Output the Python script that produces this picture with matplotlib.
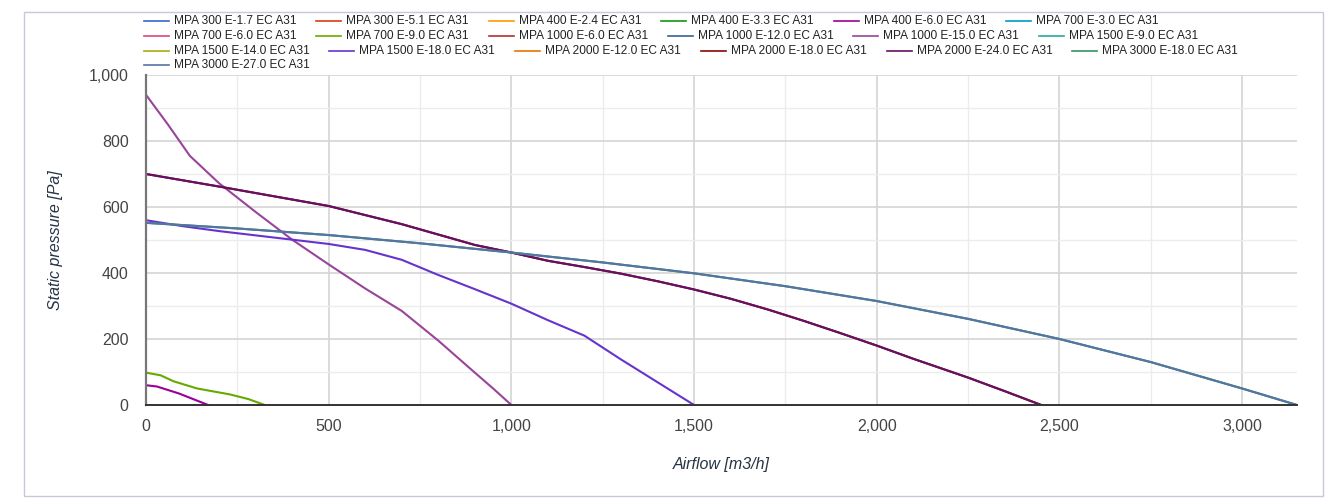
import matplotlib
matplotlib.use("Agg")
import matplotlib.pyplot as plt
from matplotlib.lines import Line2D
from matplotlib.patches import Rectangle
from matplotlib.ticker import MultipleLocator, FuncFormatter

plt.rcParams['font.family'] = ['Liberation Sans', 'DejaVu Sans']

# series names and colours (legend order)
names = ["MPA 300 E-1.7 EC A31", "MPA 300 E-5.1 EC A31", "MPA 400 E-2.4 EC A31",
         "MPA 400 E-3.3 EC A31", "MPA 400 E-6.0 EC A31", "MPA 700 E-3.0 EC A31",
         "MPA 700 E-6.0 EC A31", "MPA 700 E-9.0 EC A31", "MPA 1000 E-6.0 EC A31",
         "MPA 1000 E-12.0 EC A31", "MPA 1000 E-15.0 EC A31", "MPA 1500 E-9.0 EC A31",
         "MPA 1500 E-14.0 EC A31", "MPA 1500 E-18.0 EC A31", "MPA 2000 E-12.0 EC A31",
         "MPA 2000 E-18.0 EC A31", "MPA 2000 E-24.0 EC A31", "MPA 3000 E-18.0 EC A31",
         "MPA 3000 E-27.0 EC A31"]
colors = ["#3366cc", "#dc3912", "#ff9900", "#109618", "#990099", "#0099c6",
          "#dd4477", "#66aa00", "#b82e2e", "#316395", "#994499", "#22aa99",
          "#aaaa11", "#6633cc", "#e67300", "#8b0707", "#651067", "#329262",
          "#5574a6"]

# fan curves: airflow [m3/h], static pressure [Pa]
q_400_60 = [0, 30, 90, 170]
p_400_60 = [60, 56, 35, 0]

q_700_90 = [0, 40, 75, 140, 230, 280, 325]
p_700_90 = [98, 90, 72, 50, 32, 18, 0]

q_1000_150 = [0, 60, 120, 200, 300, 400, 500, 600, 700, 800, 900, 950, 1000]
p_1000_150 = [940, 850, 755, 672, 585, 501, 426, 353, 285, 195, 98, 50, 0]

q_1500_180 = [0, 100, 200, 300, 400, 500, 600, 700, 800, 900, 1000, 1100, 1200, 1300, 1400, 1500]
p_1500_180 = [560, 542, 527, 514, 501, 488, 470, 440, 394, 351, 307, 257, 210, 138, 69, 0]

q_2000 = [0, 200, 500, 700, 900, 1000, 1100, 1200, 1300, 1400, 1500, 1600, 1700, 1800,
          1900, 2000, 2100, 2250, 2350, 2450]
p_2000 = [700, 662, 603, 548, 485, 462, 437, 418, 398, 375, 350, 322, 290, 255,
          218, 180, 140, 83, 42, 0]

q_3000 = [0, 250, 500, 750, 1000, 1250, 1500, 1750, 2000, 2250, 2500, 2750, 3000, 3150]
p_3000 = [552, 535, 515, 490, 462, 432, 399, 360, 315, 261, 200, 130, 50, 0]

curves = {
    "MPA 400 E-6.0 EC A31": (q_400_60, p_400_60),
    "MPA 700 E-9.0 EC A31": (q_700_90, p_700_90),
    "MPA 1000 E-15.0 EC A31": (q_1000_150, p_1000_150),
    "MPA 1500 E-18.0 EC A31": (q_1500_180, p_1500_180),
    "MPA 2000 E-18.0 EC A31": (q_2000, p_2000),
    "MPA 2000 E-24.0 EC A31": (q_2000, p_2000),
    "MPA 3000 E-18.0 EC A31": (q_3000, p_3000),
    "MPA 3000 E-27.0 EC A31": (q_3000, p_3000),
}

W, H = 1335, 503
fig = plt.figure(figsize=(W / 100, H / 100), dpi=100)
ax = fig.add_axes([146 / W, (H - 405) / H, 1151 / W, 330 / H])

for name, col in zip(names, colors):
    if name in curves:
        x, y = curves[name]
        ax.plot(x, y, color=col, lw=1.5, solid_joinstyle='round')

ax.set_xlim(0, 3150)
ax.set_ylim(0, 1000)
ax.xaxis.set_major_locator(MultipleLocator(500))
ax.xaxis.set_minor_locator(MultipleLocator(250))
ax.yaxis.set_major_locator(MultipleLocator(200))
ax.yaxis.set_minor_locator(MultipleLocator(100))
fmt = FuncFormatter(lambda v, p: "{:,.0f}".format(v))
ax.xaxis.set_major_formatter(fmt)
ax.yaxis.set_major_formatter(fmt)
ax.grid(which='major', color='#d4d4d4', lw=1.2)
ax.grid(which='minor', color='#ececec', lw=1.0)
ax.set_axisbelow(True)
ax.tick_params(which='both', length=0)
ax.tick_params(axis='x', pad=10, labelsize=11.5, labelcolor='#444444')
ax.tick_params(axis='y', pad=12.5, labelsize=11.5, labelcolor='#444444')
for s in ['top', 'right']:
    ax.spines[s].set_visible(False)
ax.spines['left'].set_color('#777777')
ax.spines['left'].set_linewidth(1.6)
ax.spines['bottom'].set_color('#333333')
ax.spines['bottom'].set_linewidth(1.4)

ax.set_xlabel("Airflow [m3/h]", fontsize=11.5, style='italic', color='#263445')
ax.set_ylabel("Static pressure [Pa]", fontsize=11.5, style='italic', color='#263445')
ax.xaxis.set_label_coords(0.5, -52 / 330)
ax.yaxis.set_label_coords((63 - 146) / 1151, 0.5)

# outer frame
fig.add_artist(Rectangle((24 / W, (H - 496) / H), 1299 / W, 484 / H,
                         transform=fig.transFigure, fill=False,
                         edgecolor='#c6cad8', lw=1.0))

# flowing legend across the top
fig.canvas.draw()
renderer = fig.canvas.get_renderer()
x0, limit = 143.6, 1297
row_y = [21, 36, 51, 65]
xpos, row = x0, 0
for name, col in zip(names, colors):
    t = fig.text(0, 0, name, fontsize=8.6, color='#222222', va='center')
    tw = t.get_window_extent(renderer).width
    if xpos + 30 + tw > limit:
        row += 1
        xpos = x0
    yy = (H - row_y[row]) / H
    fig.add_artist(Line2D([xpos / W, (xpos + 25) / W], [yy, yy],
                          transform=fig.transFigure, color=col, lw=1.2))
    t.set_position(((xpos + 30) / W, yy))
    xpos += 30 + tw + 20

fig.savefig("out.png", dpi=100)
